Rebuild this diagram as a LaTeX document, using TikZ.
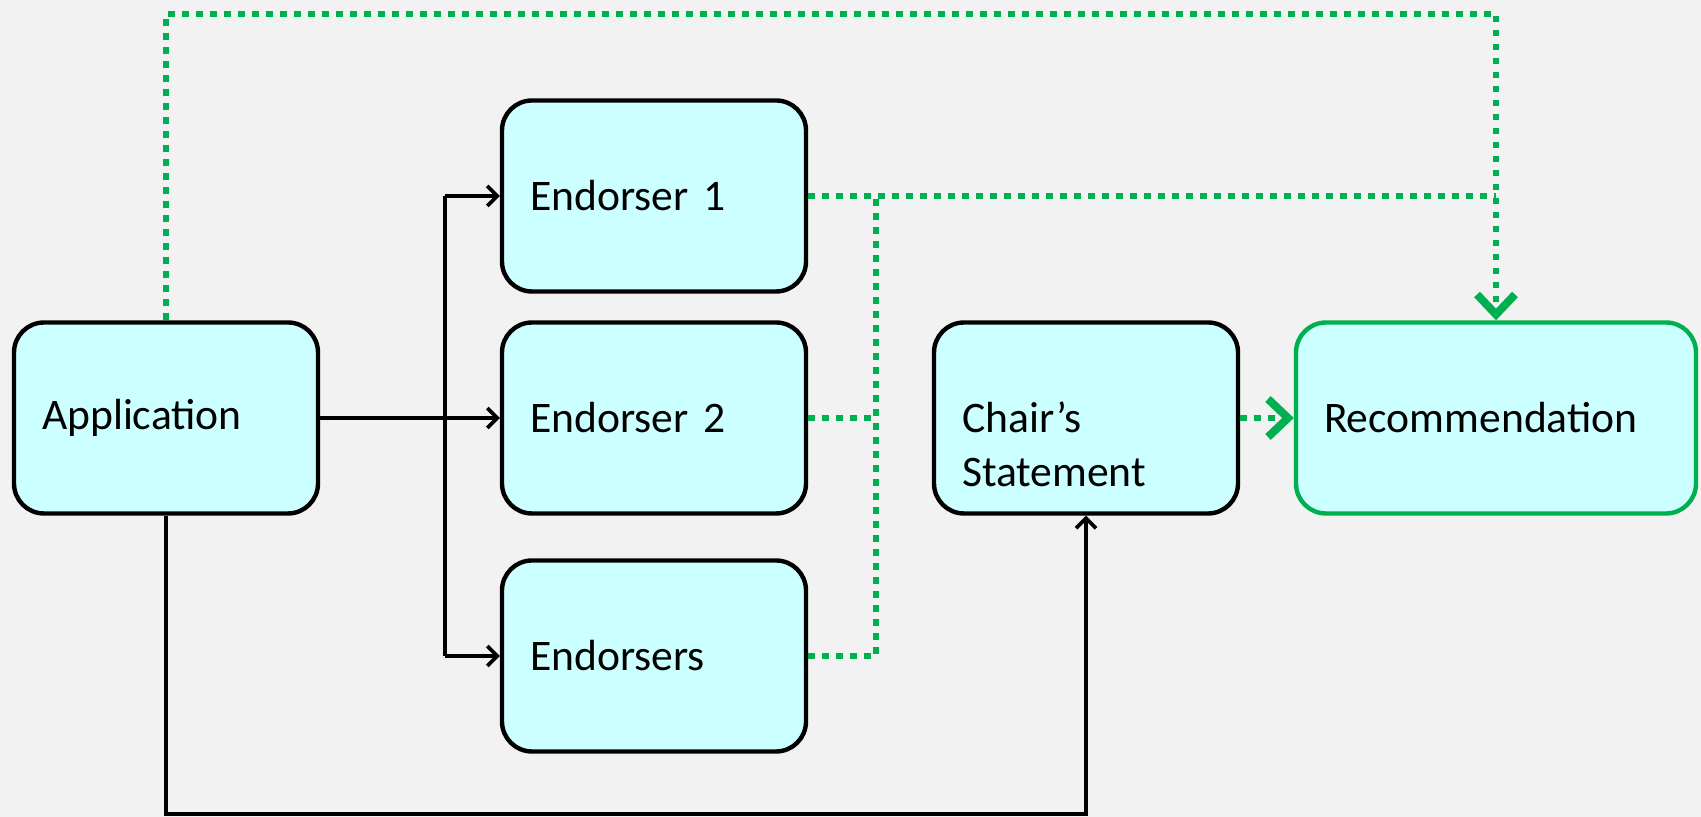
\documentclass[tikz,border=0pt]{standalone}
\usepackage{fontspec}
\setmainfont{Carlito}
\usetikzlibrary{arrows.meta}
\definecolor{boxfill}{HTML}{CCFFFF}
\definecolor{paper}{HTML}{F2F2F2}
\definecolor{okgreen}{HTML}{00B050}

\begin{document}
\begin{tikzpicture}[x=0.5pt,y=0.5pt,
	box/.style={draw=black,line width=2.2pt,fill=boxfill,rounded corners=15pt,
		minimum width=152pt,minimum height=95.5pt,text width=124pt,inner xsep=14pt,
		align=left,font=\fontsize{21.8}{27}\selectfont},
	flow/.style={line width=1.8pt,-{Straight Barb[length=5pt,width=10pt,line width=1.8pt]}},
	vote/.style={draw=okgreen,line width=3.4pt,dash pattern=on 3.4pt off 3.6pt},
	votearrow/.style={vote,-{Straight Barb[length=10pt,width=19pt,line width=4pt]}}]
	\useasboundingbox[fill=paper] (0,0) rectangle (1701,817);
	\node[box] (app) at (166,399) {Application};
	\node[box] (e1) at (654,621) {Endorser 1};
	\node[box] (e2) at (654,399) {Endorser 2};
	\node[box] (es) at (654,161) {Endorsers};
	\node[box] (chair) at (1086,399) {\mbox{}\\[15pt]Chair’s\\Statement};
	\node[box,draw=okgreen,minimum width=200pt,text width=172pt] (rec) at (1496,399) {Recommendation};
	\coordinate (split) at (445,399);
	\coordinate (join) at (876,621);
	\coordinate (floor) at (166,3);
	\coordinate (roof) at (166,803);
	\draw[line width=1.8pt] (split |- e1) -- (split |- es);
	\draw[flow] (app) -- (e2);
	\draw[flow] (split |- e1) -- (e1);
	\draw[flow] (split |- es) -- (es);
	\draw[flow] (app.south) -- (floor) -| (chair.south);
	\draw[votearrow] (app.north) -- (roof) -| (rec.north);
	\draw[vote] (e1) -- (rec.north |- e1);
	\draw[vote] (e2) -- (join |- e2);
	\draw[vote] (es) -- (join |- es) -- (join);
	\draw[votearrow] (chair) -- (rec);
\end{tikzpicture}
\end{document}
